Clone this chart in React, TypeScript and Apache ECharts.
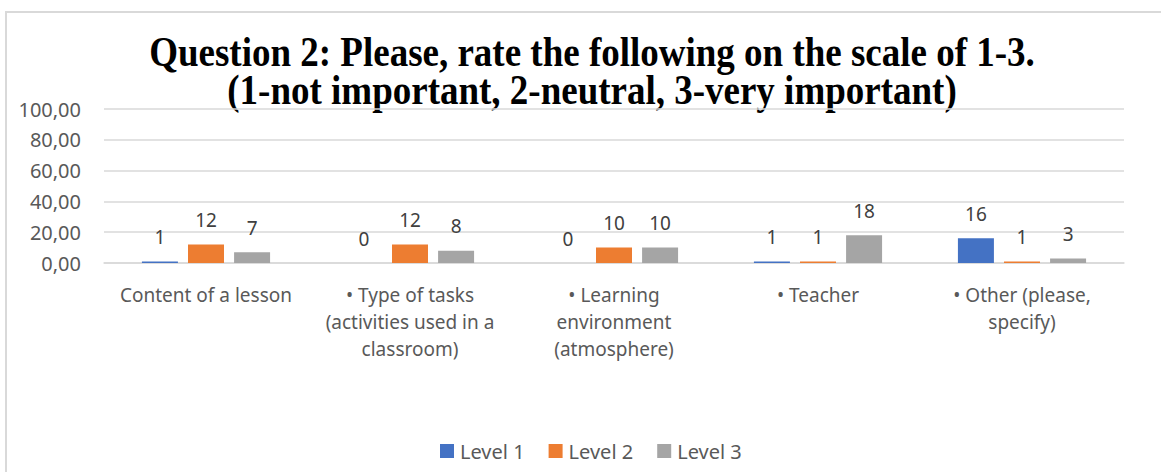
import React, { useEffect, useRef } from "react";
import * as echarts from "echarts";

const categories = [
  "Content of a lesson",
  "• Type of tasks\n(activities used in a\nclassroom)",
  "• Learning\nenvironment\n(atmosphere)",
  "• Teacher",
  "• Other (please,\nspecify)",
];
const level1 = [1, 0, 0, 1, 16];
const level2 = [12, 12, 10, 1, 1];
const level3 = [7, 8, 10, 18, 3];
const seriesNames = ["Level 1", "Level 2", "Level 3"];
const titleLines = [
  "Question 2: Please, rate the following on the scale of 1-3.",
  "(1-not important, 2-neutral, 3-very important)",
];
const yMin = 0;
const yMax = 100;
const yInterval = 20;

const colors = ["#4472C4", "#ED7D31", "#A5A5A5"];
const FONT = "'Noto Sans', 'Open Sans', sans-serif";

export default function App() {
  const ref = useRef<HTMLDivElement>(null);
  useEffect(() => {
    if (!ref.current) return;
    const chart = echarts.init(ref.current, null, { renderer: "svg" });
    const mkSeries = (name: string, data: number[], color: string) => ({
      name,
      type: "bar",
      data,
      barWidth: 36,
      barGap: "28%",
      itemStyle: { color },
      label: {
        show: true,
        position: "top",
        distance: 15,
        color: "#404040",
        fontSize: 19,
        fontFamily: FONT,
      },
    });
    chart.setOption({
      animation: false,
      backgroundColor: "#ffffff",
      color: colors,
      graphic: [
        {
          type: "rect",
          shape: { x: 6, y: 12, width: 1300, height: 600 },
          style: { fill: "none", stroke: "#d9d9d9", lineWidth: 2 },
          silent: true,
        },
        {
          type: "text",
          x: 592,
          y: 33,
          scaleY: 1.13,
          style: {
            text: titleLines.join("\n"),
            fontFamily: "'Liberation Serif', 'Times New Roman', serif",
            fontWeight: "bold",
            fontSize: 37,
            lineHeight: 34,
            fill: "#000000",
            align: "center",
            verticalAlign: "top",
          },
        },
      ],
      legend: {
        left: 435,
        top: 436,
        itemWidth: 14,
        itemHeight: 14,
        itemGap: 24,
        icon: "rect",
        data: seriesNames,
        textStyle: { color: "#595959", fontSize: 20, fontFamily: FONT, padding: [0, 0, 0, 1] },
      },
      grid: { left: 104, right: 37, top: 109, bottom: 209 },
      xAxis: {
        type: "category",
        data: categories,
        axisLine: { lineStyle: { color: "#d9d9d9", width: 1.5 } },
        axisTick: { show: false },
        axisLabel: {
          color: "#595959",
          fontSize: 19,
          fontFamily: FONT,
          lineHeight: 27,
          margin: 18,
          interval: 0,
        },
      },
      yAxis: {
        type: "value",
        min: yMin,
        max: yMax,
        interval: yInterval,
        axisLine: { show: false },
        axisTick: { show: false },
        splitLine: { lineStyle: { color: "#d9d9d9", width: 1.5 } },
        axisLabel: {
          color: "#595959",
          fontSize: 20,
          fontFamily: FONT,
          margin: 23,
          formatter: (v: number) => v.toFixed(2).replace(".", ","),
        },
      },
      series: [
        mkSeries(seriesNames[0], level1, colors[0]),
        mkSeries(seriesNames[1], level2, colors[1]),
        mkSeries(seriesNames[2], level3, colors[2]),
      ],
    });
    return () => chart.dispose();
  }, []);
  return (
    <div
      ref={ref}
      style={{ position: "absolute", left: 0, top: 0, width: 1161, height: 472 }}
    />
  );
}
